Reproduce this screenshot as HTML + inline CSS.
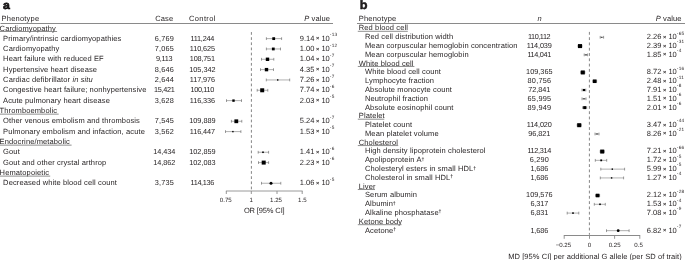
<!DOCTYPE html>
<html><head><meta charset="utf-8"><style>
html,body{margin:0;padding:0;background:#fff;width:685px;height:260px;overflow:hidden}
svg{display:block;will-change:transform}
svg{text-rendering:geometricPrecision;font-family:"Liberation Sans",sans-serif;font-size:7.5px;fill:#231f20}
</style></head><body>
<svg width="685" height="260" viewBox="0 0 685 260">
<text x="2.90" y="8.90" font-weight="bold" font-size="11.4" stroke="#000" stroke-width="0.6" transform="translate(2.9 0) scale(1.08 1) translate(-2.9 0)">a</text>
<text x="1.60" y="20.60" letter-spacing="0.2">Phenotype</text>
<text x="164.30" y="20.60" text-anchor="middle" letter-spacing="0.1">Case</text>
<text x="202.40" y="20.60" text-anchor="middle" letter-spacing="0.35">Control</text>
<text x="304.3" y="20.6" letter-spacing="0.1"><tspan font-style="italic">P</tspan> value</text>
<line x1="0.50" y1="23.50" x2="333.00" y2="23.50" stroke="#8a8a8a" stroke-width="1"/>
<text x="-0.40" y="30.50" letter-spacing="0.12">Cardiomyopathy</text>
<line x1="0.00" y1="31.50" x2="57.10" y2="31.50" stroke="#6a6a6a" stroke-width="0.75"/>
<text x="3.10" y="40.83" letter-spacing="0.12">Primary/intrinsic cardiomyopathies</text>
<text x="164.30" y="40.83" text-anchor="middle" font-size="7.3" textLength="19.10">6,769</text>
<text x="202.40" y="40.83" text-anchor="middle" font-size="7.3" textLength="23.80">111,244</text>
<text x="299.80" y="40.83" font-size="7.5">9.14<tspan font-size="5.6" font-weight="bold" dx="0.1" dy="-0.4"> × </tspan><tspan dx="0.5" dy="0.4">10</tspan><tspan font-size="4.7" dx="0.1" dy="-4.6" letter-spacing="0.25">-13</tspan></text>
<line x1="266.40" y1="38.63" x2="281.60" y2="38.63" stroke="#7a7a7a" stroke-width="0.6"/>
<line x1="266.40" y1="37.23" x2="266.40" y2="40.03" stroke="#5a5a5a" stroke-width="0.6"/>
<line x1="281.60" y1="37.23" x2="281.60" y2="40.03" stroke="#5a5a5a" stroke-width="0.6"/>
<rect x="272.30" y="37.23" width="2.80" height="2.80" fill="#000"/>
<text x="3.10" y="51.16" letter-spacing="0.12">Cardiomyopathy</text>
<text x="164.30" y="51.16" text-anchor="middle" font-size="7.3" textLength="19.10">7,065</text>
<text x="202.40" y="51.16" text-anchor="middle" font-size="7.3" textLength="25.10">110,625</text>
<text x="299.80" y="51.16" font-size="7.5">1.00<tspan font-size="5.6" font-weight="bold" dx="0.1" dy="-0.4"> × </tspan><tspan dx="0.5" dy="0.4">10</tspan><tspan font-size="4.7" dx="0.1" dy="-4.6" letter-spacing="0.25">-12</tspan></text>
<line x1="266.40" y1="48.96" x2="280.50" y2="48.96" stroke="#7a7a7a" stroke-width="0.6"/>
<line x1="266.40" y1="47.56" x2="266.40" y2="50.36" stroke="#5a5a5a" stroke-width="0.6"/>
<line x1="280.50" y1="47.56" x2="280.50" y2="50.36" stroke="#5a5a5a" stroke-width="0.6"/>
<rect x="271.90" y="47.56" width="2.80" height="2.80" fill="#000"/>
<text x="3.10" y="61.49" letter-spacing="0.12">Heart failure with reduced EF</text>
<text x="164.30" y="61.49" text-anchor="middle" font-size="7.3" textLength="16.50">9,113</text>
<text x="202.40" y="61.49" text-anchor="middle" font-size="7.3" textLength="25.10">108,751</text>
<text x="299.80" y="61.49" font-size="7.5">1.04<tspan font-size="5.6" font-weight="bold" dx="0.1" dy="-0.4"> × </tspan><tspan dx="0.5" dy="0.4">10</tspan><tspan font-size="4.7" dx="0.1" dy="-4.6" letter-spacing="0.25">-7</tspan></text>
<line x1="261.50" y1="59.29" x2="273.80" y2="59.29" stroke="#7a7a7a" stroke-width="0.6"/>
<line x1="261.50" y1="57.89" x2="261.50" y2="60.69" stroke="#5a5a5a" stroke-width="0.6"/>
<line x1="273.80" y1="57.89" x2="273.80" y2="60.69" stroke="#5a5a5a" stroke-width="0.6"/>
<rect x="265.80" y="57.59" width="3.40" height="3.40" fill="#000"/>
<text x="3.10" y="71.82" letter-spacing="0.12">Hypertensive heart disease</text>
<text x="164.30" y="71.82" text-anchor="middle" font-size="7.3" textLength="19.10">8,646</text>
<text x="202.40" y="71.82" text-anchor="middle" font-size="7.3" textLength="26.40">105,342</text>
<text x="299.80" y="71.82" font-size="7.5">4.35<tspan font-size="5.6" font-weight="bold" dx="0.1" dy="-0.4"> × </tspan><tspan dx="0.5" dy="0.4">10</tspan><tspan font-size="4.7" dx="0.1" dy="-4.6" letter-spacing="0.25">-7</tspan></text>
<line x1="260.50" y1="69.62" x2="273.50" y2="69.62" stroke="#7a7a7a" stroke-width="0.6"/>
<line x1="260.50" y1="68.22" x2="260.50" y2="71.02" stroke="#5a5a5a" stroke-width="0.6"/>
<line x1="273.50" y1="68.22" x2="273.50" y2="71.02" stroke="#5a5a5a" stroke-width="0.6"/>
<rect x="264.80" y="67.92" width="3.40" height="3.40" fill="#000"/>
<text x="3.10" y="82.15" letter-spacing="0.12">Cardiac defibrillator <tspan font-style="italic">in situ</tspan></text>
<text x="164.30" y="82.15" text-anchor="middle" font-size="7.3" textLength="19.10">2,644</text>
<text x="202.40" y="82.15" text-anchor="middle" font-size="7.3" textLength="25.10">117,976</text>
<text x="299.80" y="82.15" font-size="7.5">7.26<tspan font-size="5.6" font-weight="bold" dx="0.1" dy="-0.4"> × </tspan><tspan dx="0.5" dy="0.4">10</tspan><tspan font-size="4.7" dx="0.1" dy="-4.6" letter-spacing="0.25">-7</tspan></text>
<line x1="266.30" y1="79.95" x2="289.70" y2="79.95" stroke="#7a7a7a" stroke-width="0.6"/>
<line x1="266.30" y1="78.55" x2="266.30" y2="81.35" stroke="#5a5a5a" stroke-width="0.6"/>
<line x1="289.70" y1="78.55" x2="289.70" y2="81.35" stroke="#5a5a5a" stroke-width="0.6"/>
<rect x="277.00" y="79.25" width="1.40" height="1.40" fill="#000"/>
<text x="3.10" y="92.48" letter-spacing="0.12">Congestive heart failure; nonhypertensive</text>
<text x="164.30" y="92.48" text-anchor="middle" font-size="7.3" textLength="20.80">15,421</text>
<text x="202.40" y="92.48" text-anchor="middle" font-size="7.3" textLength="23.80">100,110</text>
<text x="299.80" y="92.48" font-size="7.5">7.74<tspan font-size="5.6" font-weight="bold" dx="0.1" dy="-0.4"> × </tspan><tspan dx="0.5" dy="0.4">10</tspan><tspan font-size="4.7" dx="0.1" dy="-4.6" letter-spacing="0.25">-6</tspan></text>
<line x1="257.20" y1="90.28" x2="267.80" y2="90.28" stroke="#7a7a7a" stroke-width="0.6"/>
<line x1="257.20" y1="88.88" x2="257.20" y2="91.68" stroke="#5a5a5a" stroke-width="0.6"/>
<line x1="267.80" y1="88.88" x2="267.80" y2="91.68" stroke="#5a5a5a" stroke-width="0.6"/>
<rect x="260.20" y="88.28" width="4.00" height="4.00" fill="#000"/>
<text x="3.10" y="102.81" letter-spacing="0.12">Acute pulmonary heart disease</text>
<text x="164.30" y="102.81" text-anchor="middle" font-size="7.3" textLength="19.10">3,628</text>
<text x="202.40" y="102.81" text-anchor="middle" font-size="7.3" textLength="25.10">116,336</text>
<text x="299.80" y="102.81" font-size="7.5">2.03<tspan font-size="5.6" font-weight="bold" dx="0.1" dy="-0.4"> × </tspan><tspan dx="0.5" dy="0.4">10</tspan><tspan font-size="4.7" dx="0.1" dy="-4.6" letter-spacing="0.25">-5</tspan></text>
<line x1="226.50" y1="100.61" x2="241.50" y2="100.61" stroke="#7a7a7a" stroke-width="0.6"/>
<line x1="226.50" y1="99.21" x2="226.50" y2="102.01" stroke="#5a5a5a" stroke-width="0.6"/>
<line x1="241.50" y1="99.21" x2="241.50" y2="102.01" stroke="#5a5a5a" stroke-width="0.6"/>
<rect x="232.30" y="99.41" width="2.40" height="2.40" fill="#000"/>
<text x="-0.40" y="113.14" letter-spacing="0.12">Thromboembolic</text>
<line x1="0.00" y1="114.14" x2="58.70" y2="114.14" stroke="#6a6a6a" stroke-width="0.75"/>
<text x="3.10" y="123.47" letter-spacing="0.12">Other venous embolism and thrombosis</text>
<text x="164.30" y="123.47" text-anchor="middle" font-size="7.3" textLength="19.10">7,545</text>
<text x="202.40" y="123.47" text-anchor="middle" font-size="7.3" textLength="26.40">109,889</text>
<text x="299.80" y="123.47" font-size="7.5">5.24<tspan font-size="5.6" font-weight="bold" dx="0.1" dy="-0.4"> × </tspan><tspan dx="0.5" dy="0.4">10</tspan><tspan font-size="4.7" dx="0.1" dy="-4.6" letter-spacing="0.25">-7</tspan></text>
<line x1="231.40" y1="121.27" x2="241.80" y2="121.27" stroke="#7a7a7a" stroke-width="0.6"/>
<line x1="231.40" y1="119.87" x2="231.40" y2="122.67" stroke="#5a5a5a" stroke-width="0.6"/>
<line x1="241.80" y1="119.87" x2="241.80" y2="122.67" stroke="#5a5a5a" stroke-width="0.6"/>
<rect x="234.40" y="119.37" width="3.80" height="3.80" fill="#000"/>
<text x="3.10" y="133.80" letter-spacing="0.12">Pulmonary embolism and infaction, acute</text>
<text x="164.30" y="133.80" text-anchor="middle" font-size="7.3" textLength="19.10">3,562</text>
<text x="202.40" y="133.80" text-anchor="middle" font-size="7.3" textLength="25.10">116,447</text>
<text x="299.80" y="133.80" font-size="7.5">1.53<tspan font-size="5.6" font-weight="bold" dx="0.1" dy="-0.4"> × </tspan><tspan dx="0.5" dy="0.4">10</tspan><tspan font-size="4.7" dx="0.1" dy="-4.6" letter-spacing="0.25">-5</tspan></text>
<line x1="225.50" y1="131.60" x2="240.90" y2="131.60" stroke="#7a7a7a" stroke-width="0.6"/>
<line x1="225.50" y1="130.20" x2="225.50" y2="133.00" stroke="#5a5a5a" stroke-width="0.6"/>
<line x1="240.90" y1="130.20" x2="240.90" y2="133.00" stroke="#5a5a5a" stroke-width="0.6"/>
<rect x="232.20" y="130.90" width="1.40" height="1.40" fill="#000"/>
<text x="-0.40" y="144.13" letter-spacing="0.12">Endocrine/metabolic</text>
<line x1="0.00" y1="145.13" x2="71.60" y2="145.13" stroke="#6a6a6a" stroke-width="0.75"/>
<text x="3.10" y="154.46" letter-spacing="0.12">Gout</text>
<text x="164.30" y="154.46" text-anchor="middle" font-size="7.3" textLength="22.10">14,434</text>
<text x="202.40" y="154.46" text-anchor="middle" font-size="7.3" textLength="26.40">102,859</text>
<text x="299.80" y="154.46" font-size="7.5">1.41<tspan font-size="5.6" font-weight="bold" dx="0.1" dy="-0.4"> × </tspan><tspan dx="0.5" dy="0.4">10</tspan><tspan font-size="4.7" dx="0.1" dy="-4.6" letter-spacing="0.25">-6</tspan></text>
<line x1="258.20" y1="152.26" x2="268.60" y2="152.26" stroke="#7a7a7a" stroke-width="0.6"/>
<line x1="258.20" y1="150.86" x2="258.20" y2="153.66" stroke="#5a5a5a" stroke-width="0.6"/>
<line x1="268.60" y1="150.86" x2="268.60" y2="153.66" stroke="#5a5a5a" stroke-width="0.6"/>
<rect x="262.20" y="151.46" width="1.60" height="1.60" fill="#000"/>
<text x="3.10" y="164.79" letter-spacing="0.12">Gout and other crystal arthrop</text>
<text x="164.30" y="164.79" text-anchor="middle" font-size="7.3" textLength="22.10">14,862</text>
<text x="202.40" y="164.79" text-anchor="middle" font-size="7.3" textLength="26.40">102,083</text>
<text x="299.80" y="164.79" font-size="7.5">2.23<tspan font-size="5.6" font-weight="bold" dx="0.1" dy="-0.4"> × </tspan><tspan dx="0.5" dy="0.4">10</tspan><tspan font-size="4.7" dx="0.1" dy="-4.6" letter-spacing="0.25">-6</tspan></text>
<line x1="258.50" y1="162.59" x2="268.60" y2="162.59" stroke="#7a7a7a" stroke-width="0.6"/>
<line x1="258.50" y1="161.19" x2="258.50" y2="163.99" stroke="#5a5a5a" stroke-width="0.6"/>
<line x1="268.60" y1="161.19" x2="268.60" y2="163.99" stroke="#5a5a5a" stroke-width="0.6"/>
<rect x="261.70" y="160.59" width="4.00" height="4.00" fill="#000"/>
<text x="-0.40" y="175.12" letter-spacing="0.12">Hematopoietic</text>
<line x1="0.00" y1="176.12" x2="50.20" y2="176.12" stroke="#6a6a6a" stroke-width="0.75"/>
<text x="3.10" y="185.45" letter-spacing="0.12">Decreased white blood cell count</text>
<text x="164.30" y="185.45" text-anchor="middle" font-size="7.3" textLength="19.10">3,735</text>
<text x="202.40" y="185.45" text-anchor="middle" font-size="7.3" textLength="23.80">114,136</text>
<text x="299.80" y="185.45" font-size="7.5">1.06<tspan font-size="5.6" font-weight="bold" dx="0.1" dy="-0.4"> × </tspan><tspan dx="0.5" dy="0.4">10</tspan><tspan font-size="4.7" dx="0.1" dy="-4.6" letter-spacing="0.25">-5</tspan></text>
<line x1="261.50" y1="183.25" x2="280.80" y2="183.25" stroke="#7a7a7a" stroke-width="0.6"/>
<line x1="261.50" y1="181.85" x2="261.50" y2="184.65" stroke="#5a5a5a" stroke-width="0.6"/>
<line x1="280.80" y1="181.85" x2="280.80" y2="184.65" stroke="#5a5a5a" stroke-width="0.6"/>
<circle cx="271.00" cy="183.25" r="1.50" fill="#000"/>
<line x1="251.40" y1="32.05" x2="251.40" y2="190.50" stroke="#707070" stroke-width="0.85" stroke-dasharray="2.75 2.4"/>
<line x1="225.90" y1="191.00" x2="302.60" y2="191.00" stroke="#9a9a9a" stroke-width="1"/>
<line x1="226.30" y1="191.00" x2="226.30" y2="194.00" stroke="#8a8a8a" stroke-width="0.9"/>
<text x="225.80" y="201.60" text-anchor="middle" font-size="6.1">0.75</text>
<line x1="251.30" y1="191.00" x2="251.30" y2="194.00" stroke="#8a8a8a" stroke-width="0.9"/>
<text x="251.30" y="201.60" text-anchor="middle" font-size="6.1">1</text>
<line x1="277.00" y1="191.00" x2="277.00" y2="194.00" stroke="#8a8a8a" stroke-width="0.9"/>
<text x="276.00" y="201.60" text-anchor="middle" font-size="6.1">1.25</text>
<line x1="302.20" y1="191.00" x2="302.20" y2="194.00" stroke="#8a8a8a" stroke-width="0.9"/>
<text x="302.30" y="201.60" text-anchor="middle" font-size="6.1">1.5</text>
<text x="264.30" y="212.50" text-anchor="middle" textLength="40.8">OR [95% CI]</text>
<text x="359.70" y="9.00" font-weight="bold" font-size="12.0" stroke="#000" stroke-width="0.4" transform="translate(359.7 0) scale(1.06 1) translate(-359.7 0)">b</text>
<text x="358.80" y="20.60" letter-spacing="0.2">Phenotype</text>
<text x="539.50" y="20.60" text-anchor="middle" font-style="italic">n</text>
<text x="655.8" y="20.6" letter-spacing="0.1"><tspan font-style="italic">P</tspan> value</text>
<line x1="357.00" y1="23.50" x2="685.00" y2="23.50" stroke="#8a8a8a" stroke-width="1"/>
<text x="358.80" y="30.40" letter-spacing="0.12">Red blood cell</text>
<line x1="357.80" y1="31.30" x2="407.80" y2="31.30" stroke="#6a6a6a" stroke-width="0.75"/>
<text x="365.00" y="39.19" letter-spacing="0.12">Red cell distribution width</text>
<text x="539.30" y="39.19" text-anchor="middle" font-size="7.3" textLength="22.50">110,112</text>
<text x="646.80" y="39.19" font-size="7.5">2.26<tspan font-size="5.6" font-weight="bold" dx="0.1" dy="-0.4"> × </tspan><tspan dx="0.5" dy="0.4">10</tspan><tspan font-size="4.7" dx="0.1" dy="-4.6" letter-spacing="0.25">-65</tspan></text>
<line x1="600.20" y1="37.29" x2="603.60" y2="37.29" stroke="#7a7a7a" stroke-width="0.6"/>
<line x1="600.20" y1="35.89" x2="600.20" y2="38.69" stroke="#5a5a5a" stroke-width="0.6"/>
<line x1="603.60" y1="35.89" x2="603.60" y2="38.69" stroke="#5a5a5a" stroke-width="0.6"/>
<rect x="601.30" y="36.79" width="1.00" height="1.00" fill="#000"/>
<text x="365.00" y="47.98" letter-spacing="0.12">Mean corpuscular hemoglobin concentration</text>
<text x="539.30" y="47.98" text-anchor="middle" font-size="7.3" textLength="25.10">114,039</text>
<text x="646.80" y="47.98" font-size="7.5">2.39<tspan font-size="5.6" font-weight="bold" dx="0.1" dy="-0.4"> × </tspan><tspan dx="0.5" dy="0.4">10</tspan><tspan font-size="4.7" dx="0.1" dy="-4.6" letter-spacing="0.25">-31</tspan></text>
<line x1="578.00" y1="46.08" x2="582.00" y2="46.08" stroke="#7a7a7a" stroke-width="0.6"/>
<line x1="578.00" y1="44.68" x2="578.00" y2="47.48" stroke="#5a5a5a" stroke-width="0.6"/>
<line x1="582.00" y1="44.68" x2="582.00" y2="47.48" stroke="#5a5a5a" stroke-width="0.6"/>
<rect x="578.00" y="44.08" width="4.00" height="4.00" fill="#000"/>
<text x="365.00" y="56.77" letter-spacing="0.12">Mean corpuscular hemoglobin</text>
<text x="539.30" y="56.77" text-anchor="middle" font-size="7.3" textLength="23.80">114,041</text>
<text x="646.80" y="56.77" font-size="7.5">1.85<tspan font-size="5.6" font-weight="bold" dx="0.1" dy="-0.4"> × </tspan><tspan dx="0.5" dy="0.4">10</tspan><tspan font-size="4.7" dx="0.1" dy="-4.6" letter-spacing="0.25">-4</tspan></text>
<line x1="584.20" y1="54.87" x2="587.60" y2="54.87" stroke="#7a7a7a" stroke-width="0.6"/>
<line x1="584.20" y1="53.47" x2="584.20" y2="56.27" stroke="#5a5a5a" stroke-width="0.6"/>
<line x1="587.60" y1="53.47" x2="587.60" y2="56.27" stroke="#5a5a5a" stroke-width="0.6"/>
<rect x="585.40" y="54.27" width="1.20" height="1.20" fill="#000"/>
<text x="358.80" y="65.56" letter-spacing="0.12">White blood cell</text>
<line x1="357.80" y1="66.46" x2="414.40" y2="66.46" stroke="#6a6a6a" stroke-width="0.75"/>
<text x="365.00" y="74.35" letter-spacing="0.12">White blood cell count</text>
<text x="539.30" y="74.35" text-anchor="middle" font-size="7.3" textLength="26.40">109,365</text>
<text x="646.80" y="74.35" font-size="7.5">8.72<tspan font-size="5.6" font-weight="bold" dx="0.1" dy="-0.4"> × </tspan><tspan dx="0.5" dy="0.4">10</tspan><tspan font-size="4.7" dx="0.1" dy="-4.6" letter-spacing="0.25">-16</tspan></text>
<line x1="580.80" y1="72.45" x2="584.80" y2="72.45" stroke="#7a7a7a" stroke-width="0.6"/>
<line x1="580.80" y1="71.05" x2="580.80" y2="73.85" stroke="#5a5a5a" stroke-width="0.6"/>
<line x1="584.80" y1="71.05" x2="584.80" y2="73.85" stroke="#5a5a5a" stroke-width="0.6"/>
<rect x="580.80" y="70.45" width="4.00" height="4.00" fill="#000"/>
<text x="365.00" y="83.14" letter-spacing="0.12">Lymphocyte fraction</text>
<text x="539.30" y="83.14" text-anchor="middle" font-size="7.3" textLength="23.40">80,756</text>
<text x="646.80" y="83.14" font-size="7.5">2.48<tspan font-size="5.6" font-weight="bold" dx="0.1" dy="-0.4"> × </tspan><tspan dx="0.5" dy="0.4">10</tspan><tspan font-size="4.7" dx="0.1" dy="-4.6" letter-spacing="0.25">-11</tspan></text>
<line x1="592.80" y1="81.24" x2="596.60" y2="81.24" stroke="#7a7a7a" stroke-width="0.6"/>
<line x1="592.80" y1="79.84" x2="592.80" y2="82.64" stroke="#5a5a5a" stroke-width="0.6"/>
<line x1="596.60" y1="79.84" x2="596.60" y2="82.64" stroke="#5a5a5a" stroke-width="0.6"/>
<rect x="592.90" y="79.44" width="3.60" height="3.60" fill="#000"/>
<text x="365.00" y="91.93" letter-spacing="0.12">Absolute monocyte count</text>
<text x="539.30" y="91.93" text-anchor="middle" font-size="7.3" textLength="22.10">72,841</text>
<text x="646.80" y="91.93" font-size="7.5">7.91<tspan font-size="5.6" font-weight="bold" dx="0.1" dy="-0.4"> × </tspan><tspan dx="0.5" dy="0.4">10</tspan><tspan font-size="4.7" dx="0.1" dy="-4.6" letter-spacing="0.25">-8</tspan></text>
<line x1="582.00" y1="90.03" x2="585.80" y2="90.03" stroke="#7a7a7a" stroke-width="0.6"/>
<line x1="582.00" y1="88.63" x2="582.00" y2="91.43" stroke="#5a5a5a" stroke-width="0.6"/>
<line x1="585.80" y1="88.63" x2="585.80" y2="91.43" stroke="#5a5a5a" stroke-width="0.6"/>
<rect x="582.90" y="88.93" width="2.20" height="2.20" fill="#000"/>
<text x="365.00" y="100.72" letter-spacing="0.12">Neutrophil fraction</text>
<text x="539.30" y="100.72" text-anchor="middle" font-size="7.3" textLength="23.40">65,995</text>
<text x="646.80" y="100.72" font-size="7.5">1.51<tspan font-size="5.6" font-weight="bold" dx="0.1" dy="-0.4"> × </tspan><tspan dx="0.5" dy="0.4">10</tspan><tspan font-size="4.7" dx="0.1" dy="-4.6" letter-spacing="0.25">-6</tspan></text>
<line x1="582.00" y1="98.82" x2="586.00" y2="98.82" stroke="#7a7a7a" stroke-width="0.6"/>
<line x1="582.00" y1="97.42" x2="582.00" y2="100.22" stroke="#5a5a5a" stroke-width="0.6"/>
<line x1="586.00" y1="97.42" x2="586.00" y2="100.22" stroke="#5a5a5a" stroke-width="0.6"/>
<rect x="583.40" y="98.22" width="1.20" height="1.20" fill="#000"/>
<text x="365.00" y="109.51" letter-spacing="0.12">Absolute eosinophil count</text>
<text x="539.30" y="109.51" text-anchor="middle" font-size="7.3" textLength="23.40">89,949</text>
<text x="646.80" y="109.51" font-size="7.5">2.01<tspan font-size="5.6" font-weight="bold" dx="0.1" dy="-0.4"> × </tspan><tspan dx="0.5" dy="0.4">10</tspan><tspan font-size="4.7" dx="0.1" dy="-4.6" letter-spacing="0.25">-6</tspan></text>
<line x1="582.70" y1="107.61" x2="586.70" y2="107.61" stroke="#7a7a7a" stroke-width="0.6"/>
<line x1="582.70" y1="106.21" x2="582.70" y2="109.01" stroke="#5a5a5a" stroke-width="0.6"/>
<line x1="586.70" y1="106.21" x2="586.70" y2="109.01" stroke="#5a5a5a" stroke-width="0.6"/>
<rect x="583.20" y="106.11" width="3.00" height="3.00" fill="#000"/>
<text x="358.80" y="118.30" letter-spacing="0.12">Platelet</text>
<line x1="357.80" y1="119.20" x2="384.30" y2="119.20" stroke="#6a6a6a" stroke-width="0.75"/>
<text x="365.00" y="127.09" letter-spacing="0.12">Platelet count</text>
<text x="539.30" y="127.09" text-anchor="middle" font-size="7.3" textLength="25.10">114,020</text>
<text x="646.80" y="127.09" font-size="7.5">3.47<tspan font-size="5.6" font-weight="bold" dx="0.1" dy="-0.4"> × </tspan><tspan dx="0.5" dy="0.4">10</tspan><tspan font-size="4.7" dx="0.1" dy="-4.6" letter-spacing="0.25">-44</tspan></text>
<line x1="577.20" y1="125.19" x2="581.20" y2="125.19" stroke="#7a7a7a" stroke-width="0.6"/>
<line x1="577.20" y1="123.79" x2="577.20" y2="126.59" stroke="#5a5a5a" stroke-width="0.6"/>
<line x1="581.20" y1="123.79" x2="581.20" y2="126.59" stroke="#5a5a5a" stroke-width="0.6"/>
<rect x="577.20" y="123.19" width="4.00" height="4.00" fill="#000"/>
<text x="365.00" y="135.88" letter-spacing="0.12">Mean platelet volume</text>
<text x="539.30" y="135.88" text-anchor="middle" font-size="7.3" textLength="22.10">96,821</text>
<text x="646.80" y="135.88" font-size="7.5">8.26<tspan font-size="5.6" font-weight="bold" dx="0.1" dy="-0.4"> × </tspan><tspan dx="0.5" dy="0.4">10</tspan><tspan font-size="4.7" dx="0.1" dy="-4.6" letter-spacing="0.25">-21</tspan></text>
<line x1="595.00" y1="133.98" x2="599.00" y2="133.98" stroke="#7a7a7a" stroke-width="0.6"/>
<line x1="595.00" y1="132.58" x2="595.00" y2="135.38" stroke="#5a5a5a" stroke-width="0.6"/>
<line x1="599.00" y1="132.58" x2="599.00" y2="135.38" stroke="#5a5a5a" stroke-width="0.6"/>
<rect x="596.40" y="133.38" width="1.20" height="1.20" fill="#000"/>
<text x="358.80" y="144.67" letter-spacing="0.12">Cholesterol</text>
<line x1="357.80" y1="145.57" x2="398.20" y2="145.57" stroke="#6a6a6a" stroke-width="0.75"/>
<text x="365.00" y="153.46" letter-spacing="0.12">High density lipoprotein cholesterol</text>
<text x="539.30" y="153.46" text-anchor="middle" font-size="7.3" textLength="23.80">112,314</text>
<text x="646.80" y="153.46" font-size="7.5">7.21<tspan font-size="5.6" font-weight="bold" dx="0.1" dy="-0.4"> × </tspan><tspan dx="0.5" dy="0.4">10</tspan><tspan font-size="4.7" dx="0.1" dy="-4.6" letter-spacing="0.25">-66</tspan></text>
<line x1="600.20" y1="151.56" x2="604.20" y2="151.56" stroke="#7a7a7a" stroke-width="0.6"/>
<line x1="600.20" y1="150.16" x2="600.20" y2="152.96" stroke="#5a5a5a" stroke-width="0.6"/>
<line x1="604.20" y1="150.16" x2="604.20" y2="152.96" stroke="#5a5a5a" stroke-width="0.6"/>
<rect x="600.20" y="149.56" width="4.00" height="4.00" fill="#000"/>
<text x="365.00" y="162.25" letter-spacing="0.12">Apolipoprotein A<tspan font-size="5.2" font-weight="bold" dx="-0.1" dy="-1.5">†</tspan></text>
<text x="539.30" y="162.25" text-anchor="middle" font-size="7.3" textLength="19.10">6,290</text>
<text x="646.80" y="162.25" font-size="7.5">1.72<tspan font-size="5.6" font-weight="bold" dx="0.1" dy="-0.4"> × </tspan><tspan dx="0.5" dy="0.4">10</tspan><tspan font-size="4.7" dx="0.1" dy="-4.6" letter-spacing="0.25">-5</tspan></text>
<line x1="595.30" y1="160.35" x2="606.70" y2="160.35" stroke="#7a7a7a" stroke-width="0.6"/>
<line x1="595.30" y1="158.95" x2="595.30" y2="161.75" stroke="#5a5a5a" stroke-width="0.6"/>
<line x1="606.70" y1="158.95" x2="606.70" y2="161.75" stroke="#5a5a5a" stroke-width="0.6"/>
<rect x="600.30" y="159.45" width="1.80" height="1.80" fill="#000"/>
<text x="365.00" y="171.04" letter-spacing="0.12">Cholesteryl esters in small HDL<tspan font-size="5.2" font-weight="bold" dx="-0.1" dy="-1.5">†</tspan></text>
<text x="539.30" y="171.04" text-anchor="middle" font-size="7.3" textLength="17.80">1,686</text>
<text x="646.80" y="171.04" font-size="7.5">5.99<tspan font-size="5.6" font-weight="bold" dx="0.1" dy="-0.4"> × </tspan><tspan dx="0.5" dy="0.4">10</tspan><tspan font-size="4.7" dx="0.1" dy="-4.6" letter-spacing="0.25">-5</tspan></text>
<line x1="600.80" y1="169.14" x2="624.60" y2="169.14" stroke="#7a7a7a" stroke-width="0.6"/>
<line x1="600.80" y1="167.74" x2="600.80" y2="170.54" stroke="#5a5a5a" stroke-width="0.6"/>
<line x1="624.60" y1="167.74" x2="624.60" y2="170.54" stroke="#5a5a5a" stroke-width="0.6"/>
<rect x="611.60" y="168.44" width="1.40" height="1.40" fill="#000"/>
<text x="365.00" y="179.83" letter-spacing="0.12">Cholesterol in small HDL<tspan font-size="5.2" font-weight="bold" dx="-0.1" dy="-1.5">†</tspan></text>
<text x="539.30" y="179.83" text-anchor="middle" font-size="7.3" textLength="17.80">1,686</text>
<text x="646.80" y="179.83" font-size="7.5">1.27<tspan font-size="5.6" font-weight="bold" dx="0.1" dy="-0.4"> × </tspan><tspan dx="0.5" dy="0.4">10</tspan><tspan font-size="4.7" dx="0.1" dy="-4.6" letter-spacing="0.25">-4</tspan></text>
<line x1="600.30" y1="177.93" x2="623.60" y2="177.93" stroke="#7a7a7a" stroke-width="0.6"/>
<line x1="600.30" y1="176.53" x2="600.30" y2="179.33" stroke="#5a5a5a" stroke-width="0.6"/>
<line x1="623.60" y1="176.53" x2="623.60" y2="179.33" stroke="#5a5a5a" stroke-width="0.6"/>
<rect x="610.90" y="177.23" width="1.40" height="1.40" fill="#000"/>
<text x="358.80" y="188.62" letter-spacing="0.12">Liver</text>
<line x1="357.80" y1="189.52" x2="375.00" y2="189.52" stroke="#6a6a6a" stroke-width="0.75"/>
<text x="365.00" y="197.41" letter-spacing="0.12">Serum albumin</text>
<text x="539.30" y="197.41" text-anchor="middle" font-size="7.3" textLength="26.40">109,576</text>
<text x="646.80" y="197.41" font-size="7.5">2.12<tspan font-size="5.6" font-weight="bold" dx="0.1" dy="-0.4"> × </tspan><tspan dx="0.5" dy="0.4">10</tspan><tspan font-size="4.7" dx="0.1" dy="-4.6" letter-spacing="0.25">-28</tspan></text>
<line x1="595.60" y1="195.51" x2="599.60" y2="195.51" stroke="#7a7a7a" stroke-width="0.6"/>
<line x1="595.60" y1="194.11" x2="595.60" y2="196.91" stroke="#5a5a5a" stroke-width="0.6"/>
<line x1="599.60" y1="194.11" x2="599.60" y2="196.91" stroke="#5a5a5a" stroke-width="0.6"/>
<rect x="595.80" y="193.71" width="3.60" height="3.60" fill="#000"/>
<text x="365.00" y="206.20" letter-spacing="0.12">Albumin<tspan font-size="5.2" font-weight="bold" dx="-0.1" dy="-1.5">†</tspan></text>
<text x="539.30" y="206.20" text-anchor="middle" font-size="7.3" textLength="17.80">6,317</text>
<text x="646.80" y="206.20" font-size="7.5">1.53<tspan font-size="5.6" font-weight="bold" dx="0.1" dy="-0.4"> × </tspan><tspan dx="0.5" dy="0.4">10</tspan><tspan font-size="4.7" dx="0.1" dy="-4.6" letter-spacing="0.25">-4</tspan></text>
<line x1="594.30" y1="204.30" x2="605.30" y2="204.30" stroke="#7a7a7a" stroke-width="0.6"/>
<line x1="594.30" y1="202.90" x2="594.30" y2="205.70" stroke="#5a5a5a" stroke-width="0.6"/>
<line x1="605.30" y1="202.90" x2="605.30" y2="205.70" stroke="#5a5a5a" stroke-width="0.6"/>
<rect x="599.20" y="203.50" width="1.60" height="1.60" fill="#000"/>
<text x="365.00" y="214.99" letter-spacing="0.12">Alkaline phosphatase<tspan font-size="5.2" font-weight="bold" dx="-0.1" dy="-1.5">†</tspan></text>
<text x="539.30" y="214.99" text-anchor="middle" font-size="7.3" textLength="17.80">6,831</text>
<text x="646.80" y="214.99" font-size="7.5">7.08<tspan font-size="5.6" font-weight="bold" dx="0.1" dy="-0.4"> × </tspan><tspan dx="0.5" dy="0.4">10</tspan><tspan font-size="4.7" dx="0.1" dy="-4.6" letter-spacing="0.25">-9</tspan></text>
<line x1="567.20" y1="213.09" x2="578.80" y2="213.09" stroke="#7a7a7a" stroke-width="0.6"/>
<line x1="567.20" y1="211.69" x2="567.20" y2="214.49" stroke="#5a5a5a" stroke-width="0.6"/>
<line x1="578.80" y1="211.69" x2="578.80" y2="214.49" stroke="#5a5a5a" stroke-width="0.6"/>
<rect x="572.20" y="212.29" width="1.60" height="1.60" fill="#000"/>
<text x="358.80" y="223.78" letter-spacing="0.12">Ketone body</text>
<line x1="357.80" y1="224.68" x2="401.50" y2="224.68" stroke="#6a6a6a" stroke-width="0.75"/>
<text x="365.00" y="232.57" letter-spacing="0.12">Acetone<tspan font-size="5.2" font-weight="bold" dx="-0.1" dy="-1.5">†</tspan></text>
<text x="539.30" y="232.57" text-anchor="middle" font-size="7.3" textLength="17.80">1,686</text>
<text x="646.80" y="232.57" font-size="7.5">6.82<tspan font-size="5.6" font-weight="bold" dx="0.1" dy="-0.4"> × </tspan><tspan dx="0.5" dy="0.4">10</tspan><tspan font-size="4.7" dx="0.1" dy="-4.6" letter-spacing="0.25">-7</tspan></text>
<line x1="606.50" y1="230.67" x2="629.10" y2="230.67" stroke="#7a7a7a" stroke-width="0.6"/>
<line x1="606.50" y1="229.27" x2="606.50" y2="232.07" stroke="#5a5a5a" stroke-width="0.6"/>
<line x1="629.10" y1="229.27" x2="629.10" y2="232.07" stroke="#5a5a5a" stroke-width="0.6"/>
<circle cx="618.20" cy="230.67" r="1.40" fill="#000"/>
<line x1="589.40" y1="31.90" x2="589.40" y2="234.80" stroke="#707070" stroke-width="0.85" stroke-dasharray="2.85 2.44"/>
<line x1="563.80" y1="235.50" x2="640.20" y2="235.50" stroke="#8a8a8a" stroke-width="1"/>
<line x1="564.20" y1="235.50" x2="564.20" y2="238.80" stroke="#8a8a8a" stroke-width="0.9"/>
<text x="563.40" y="246.90" text-anchor="middle" font-size="6.1">−0.25</text>
<line x1="589.50" y1="235.50" x2="589.50" y2="238.80" stroke="#8a8a8a" stroke-width="0.9"/>
<text x="589.50" y="246.90" text-anchor="middle" font-size="6.1">0</text>
<line x1="614.60" y1="235.50" x2="614.60" y2="238.80" stroke="#8a8a8a" stroke-width="0.9"/>
<text x="614.60" y="246.90" text-anchor="middle" font-size="6.1">0.25</text>
<line x1="639.80" y1="235.50" x2="639.80" y2="238.80" stroke="#8a8a8a" stroke-width="0.9"/>
<text x="638.60" y="246.90" text-anchor="middle" font-size="6.1">0.5</text>
<text x="595.00" y="258.70" text-anchor="middle" textLength="173.4">MD [95% CI] per additional G allele (per SD of trait)</text>
</svg>
</body></html>
